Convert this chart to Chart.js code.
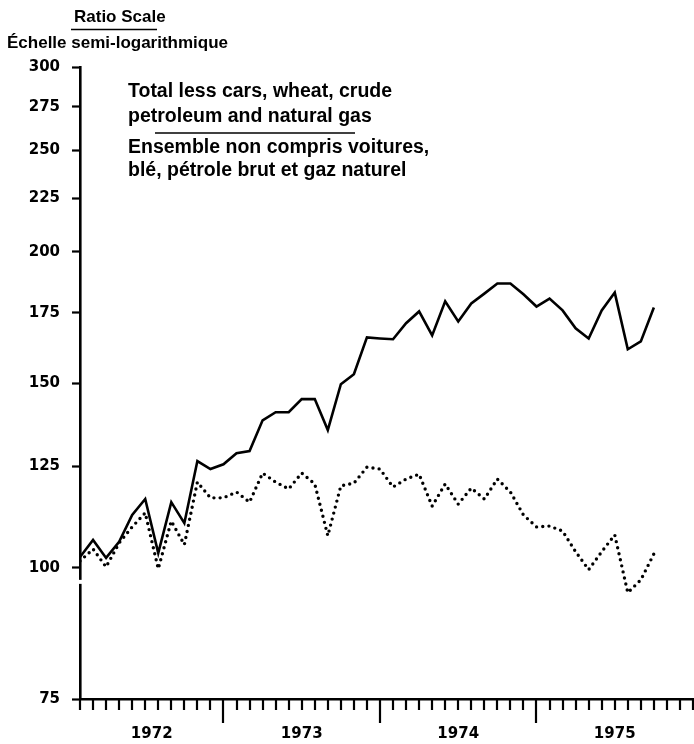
<!DOCTYPE html>
<html><head><meta charset="utf-8">
<script src="https://cdn.jsdelivr.net/npm/chart.js@4/dist/chart.umd.min.js"></script>
<style>html,body{margin:0;padding:0;background:#fff}#wrap{width:694px;height:744px;position:relative}</style>
</head><body><div id="wrap"><canvas id="c" width="694" height="744"></canvas></div>
<script>
// Months (first point Feb 1972, last Oct 1975)
const months = ["1972-02","1972-03","1972-04","1972-05","1972-06","1972-07","1972-08","1972-09","1972-10","1972-11","1972-12",
"1973-01","1973-02","1973-03","1973-04","1973-05","1973-06","1973-07","1973-08","1973-09","1973-10","1973-11","1973-12",
"1974-01","1974-02","1974-03","1974-04","1974-05","1974-06","1974-07","1974-08","1974-09","1974-10","1974-11","1974-12",
"1975-01","1975-02","1975-03","1975-04","1975-05","1975-06","1975-07","1975-08","1975-09","1975-10"];
// Solid line
const totalLessSolid = [102.4,106.3,102.2,105.9,112.3,116.3,103.3,115.5,110.3,126.4,
124.2,125.5,128.6,129.2,138.2,140.7,140.7,144.8,144.8,135.3,
149.6,152.9,165.8,165.4,165.1,171.0,175.5,166.5,179.4,171.7,
178.6,182.5,186.6,186.6,182.2,177.4,180.5,175.9,169.1,165.4,
175.9,182.9,161.5,164.3,177.0];
// Dotted line
const dottedSeries = [101.5,104.2,100.2,105.6,109.4,112.8,99.8,110.8,105.2,120.7,
116.6,116.6,118.1,115.5,123.1,120.7,118.9,123.1,120.2,107.3,
119.7,120.4,124.7,124.2,119.4,121.5,122.8,114.5,120.2,115.0,
119.1,116.3,121.5,118.1,112.3,109.4,109.6,108.4,103.6,99.6,
103.6,107.5,94.7,97.4,103.1];
const yTicks = [75,100,125,150,175,200,225,250,275,300];
const years = ["1972","1973","1974","1975"];

const firstYear = 1972;
const mIdx = s => { const [y,m] = s.split("-").map(Number); return (y-firstYear)*12 + (m-1); };
const xMin = mIdx(months[0]);
const xMax = years.length*12;
const yearLabelPos = {};
years.forEach((y,i) => {
  const a = Math.max(i*12, xMin), b = (i+1)*12;
  yearLabelPos[(a+b)/2] = y;
});

const tickFont = {family:"'DejaVu Sans', sans-serif", weight:'bold', size:15};

const decor = {
  id:'decor',
  afterDraw(chart){
    const c = chart.ctx, xs = chart.scales.x, ys = chart.scales.y, area = chart.chartArea, bottom = area.bottom;
    c.save();
    // axis break between 100 and 75
    const yb = ys.getPixelForValue(97.4);
    c.fillStyle = '#fff';
    c.fillRect(area.left-3, yb, 6, 4);
    // month ticks and longer year ticks on the x axis
    c.strokeStyle = '#000'; c.lineWidth = 2.2;
    for (let v = xMin; v <= xMax; v++) {
      const px = Math.round(xs.getPixelForValue(v));
      const len = (v % 12 === 0 && v > 0 && v < xMax) ? 24 : 11;
      c.beginPath(); c.moveTo(px, bottom); c.lineTo(px, bottom + len); c.stroke();
    }
    c.fillStyle = '#000';
    c.textBaseline = 'alphabetic';
    c.font = "bold 17px 'Liberation Sans', Arial, sans-serif";
    c.fillText('Ratio Scale', 74, 22);
    c.fillText('Échelle semi-logarithmique', 7, 48);
    c.lineWidth = 1.5;
    c.beginPath(); c.moveTo(71, 29.5); c.lineTo(157, 29.5); c.stroke();
    c.font = "bold 19.5px 'Liberation Sans', Arial, sans-serif";
    c.fillText('Total less cars, wheat, crude', 128, 97);
    c.fillText('petroleum and natural gas', 128, 122);
    c.fillText('Ensemble non compris voitures,', 128, 153);
    c.fillText('blé, pétrole brut et gaz naturel', 128, 176);
    c.beginPath(); c.moveTo(155, 133); c.lineTo(355, 133); c.stroke();
    c.restore();
  }
};

new Chart(document.getElementById('c'), {
  type:'line',
  data:{datasets:[
    {data: months.map((m,i)=>({x:mIdx(m), y:totalLessSolid[i]})), borderColor:'#000', borderWidth:2.6,
     pointRadius:0, tension:0, fill:false},
    {data: months.map((m,i)=>({x:mIdx(m), y:dottedSeries[i]})), borderColor:'#000', borderWidth:3.4,
     borderDash:[0,6.2], borderCapStyle:'round', pointRadius:0, tension:0, fill:false}
  ]},
  options:{
    responsive:false, animation:false,
    layout:{padding:{top:67, right:1, left:0, bottom:0}},
    plugins:{legend:{display:false}, tooltip:{enabled:false}},
    scales:{
      x:{type:'linear', min:xMin, max:xMax,
        afterBuildTicks: s => {
          s.ticks = Object.keys(yearLabelPos).map(Number).sort((a,b)=>a-b).map(v=>({value:v}));
        },
        afterFit: s => { s.height = 45; },
        grid:{drawOnChartArea:false, drawTicks:true, tickLength:26, tickWidth:0, tickColor:'rgba(0,0,0,0)'},
        border:{display:true, color:'#000', width:2.6},
        ticks:{autoSkip:false, maxRotation:0, minRotation:0, padding:0, color:'#000', font:tickFont,
          callback: v => yearLabelPos[v] || ''}
      },
      y:{type:'logarithmic', min:yTicks[0], max:yTicks[yTicks.length-1],
        afterBuildTicks: s => { s.ticks = yTicks.map(v=>({value:v})); },
        afterFit: s => { s.width = 80; },
        grid:{drawOnChartArea:false, drawTicks:true, tickLength:8, tickWidth:2.2, tickColor:'#000'},
        border:{display:true, color:'#000', width:2.6},
        ticks:{padding:12, color:'#000', font:tickFont, callback: v => String(v)}
      }
    }
  },
  plugins:[decor]
});
</script></body></html>
